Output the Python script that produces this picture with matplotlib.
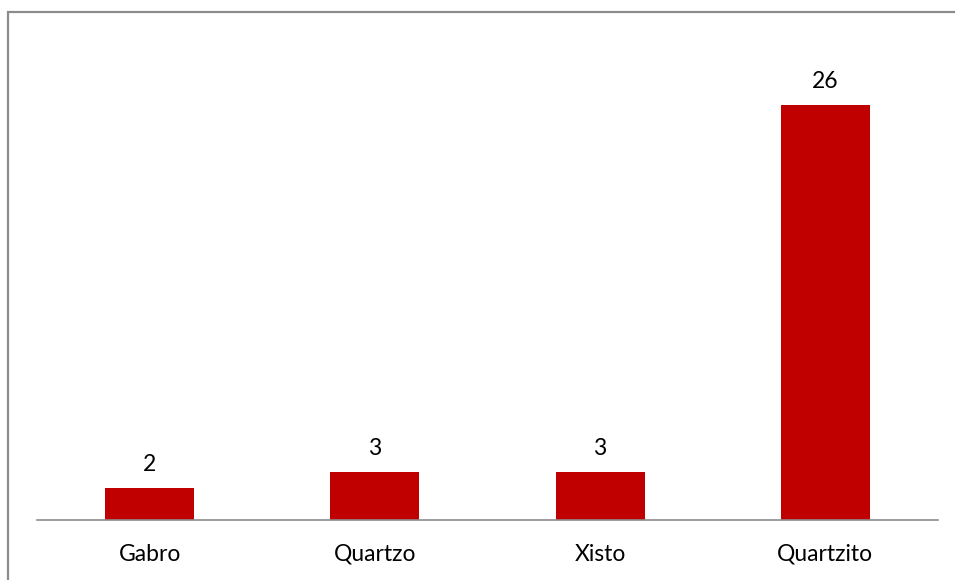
import matplotlib
matplotlib.use('agg')
import matplotlib.pyplot as plt
from matplotlib.patches import Rectangle

categories = ['Gabro', 'Quartzo', 'Xisto', 'Quartzito']
counts = [2, 3, 3, 26]

plt.rcParams['font.family'] = ['Lato', 'DejaVu Sans']

fig = plt.figure(figsize=(9.55, 5.8), dpi=100)
ax = fig.add_axes([37 / 955, 60 / 580, 901 / 955, 479 / 580])

x = range(len(categories))
bars = ax.bar(x, counts, width=0.395, color='#C00000')
for b, v in zip(bars, counts):
    ax.text(b.get_x() + b.get_width() / 2, v + 0.8, str(v),
            ha='center', va='bottom', fontsize=16.5, color='black')

ax.set_xlim(-0.5, len(categories) - 0.5)
ax.set_ylim(0, 30)
ax.set_xticks(list(x))
ax.set_xticklabels(categories, fontsize=16.5)
ax.tick_params(axis='x', length=0, pad=17)
ax.set_yticks([])
for s in ['top', 'right', 'left']:
    ax.spines[s].set_visible(False)
ax.spines['bottom'].set_color('#8c8c8c')
ax.spines['bottom'].set_linewidth(1.2)

# chart frame, clipped by the figure edge on the right and bottom
fig.patches.append(Rectangle((7.5 / 955, -0.05), 1.1, (568 / 580) + 0.05,
                             transform=fig.transFigure, fill=False,
                             edgecolor='#8c8c8c', linewidth=1.6))

fig.savefig('out.png', dpi=100)
